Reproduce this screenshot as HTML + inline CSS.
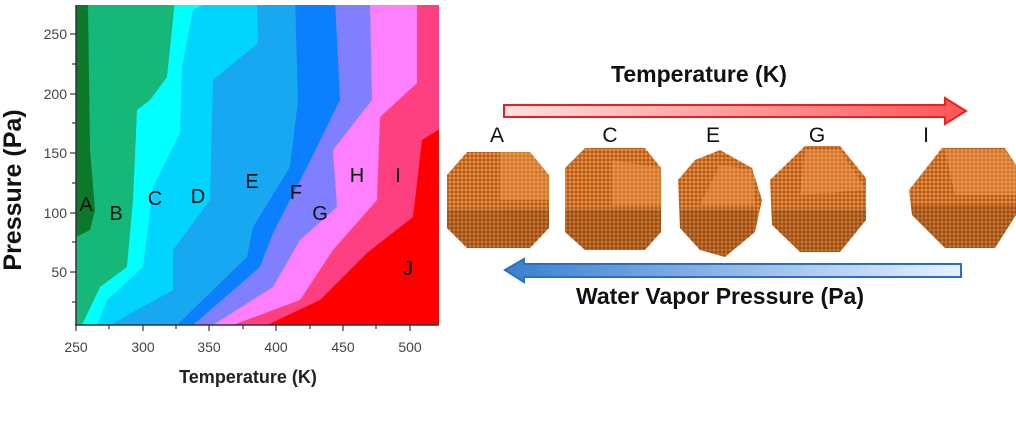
<!DOCTYPE html>
<html><head><meta charset="utf-8"><style>
body{margin:0;background:#fff;}
svg{display:block;font-family:"Liberation Sans",sans-serif;}
</style></head><body>
<svg width="1016" height="424" viewBox="0 0 1016 424" xmlns="http://www.w3.org/2000/svg">
<defs>
<pattern id="dots" width="4" height="4" patternUnits="userSpaceOnUse">
<rect width="4" height="4" fill="#a8561a"/><circle cx="2" cy="2" r="1.6" fill="#ee8c3c"/>
</pattern>
<linearGradient id="rg" x1="0" x2="1"><stop offset="0" stop-color="#ffe0e0"/><stop offset="1" stop-color="#ff5555"/></linearGradient>
<linearGradient id="bg" x1="0" x2="1"><stop offset="0" stop-color="#3a7fd0"/><stop offset="1" stop-color="#e8f0ff"/></linearGradient>
<clipPath id="pc"><rect x="76" y="5" width="363" height="320"/></clipPath>
</defs>
<g clip-path="url(#pc)" stroke-linejoin="round">
<rect x="76" y="5" width="363" height="320" fill="#0a7a2a"/>
<polygon fill="#16b87a" points="88,5 90,150 95,210 90,230 76,237 76,330 445,330 445,0"/>
<polygon fill="#00ffff" points="175,0 167,77 150,100 137,110 133,200 127,267 100,287 82,325 445,330 445,0"/>
<polygon fill="#00d4ff" points="213,0 193,10 182,67 180,133 153,187 143,267 107,300 97,325 445,330 445,0"/>
<polygon fill="#18a8f2" points="257,0 258,43 213,80 210,200 173,250 173,290 110,325 445,330 445,0"/>
<polygon fill="#0a80ff" points="295,0 298,100 290,167 253,227 247,257 177,325 445,330 445,0"/>
<polygon fill="#8080ff" points="335,0 340,100 307,167 273,233 260,267 193,325 445,330 445,0"/>
<polygon fill="#ff80ff" points="370,0 372,100 333,150 337,207 300,240 273,287 213,325 445,330 445,0"/>
<polygon fill="#ff4080" points="417,0 417,83 380,117 377,200 333,250 300,300 233,325 445,330 445,0"/>
<polygon fill="#ff0000" points="445,128 438,130 422,140 413,217 367,253 320,300 267,325 445,330"/>
</g>
<line x1="76" y1="5" x2="76" y2="326" stroke="#333" stroke-width="1.5"/>
<line x1="75" y1="325" x2="439" y2="325" stroke="#333" stroke-width="1.5"/>
<g stroke="#333" stroke-width="1.2">
<line x1="76" y1="325" x2="76" y2="331"/><line x1="109" y1="325" x2="109" y2="329"/>
<line x1="143" y1="325" x2="143" y2="331"/><line x1="176" y1="325" x2="176" y2="329"/>
<line x1="209" y1="325" x2="209" y2="331"/><line x1="243" y1="325" x2="243" y2="329"/>
<line x1="276" y1="325" x2="276" y2="331"/><line x1="310" y1="325" x2="310" y2="329"/>
<line x1="343" y1="325" x2="343" y2="331"/><line x1="376" y1="325" x2="376" y2="329"/>
<line x1="410" y1="325" x2="410" y2="331"/>
<line x1="70" y1="34" x2="76" y2="34"/><line x1="72" y1="64" x2="76" y2="64"/>
<line x1="70" y1="94" x2="76" y2="94"/><line x1="72" y1="123" x2="76" y2="123"/>
<line x1="70" y1="153" x2="76" y2="153"/><line x1="72" y1="183" x2="76" y2="183"/>
<line x1="70" y1="213" x2="76" y2="213"/><line x1="72" y1="242" x2="76" y2="242"/>
<line x1="70" y1="272" x2="76" y2="272"/><line x1="72" y1="302" x2="76" y2="302"/>
</g>
<g font-size="14" fill="#444" text-anchor="middle">
<text x="76" y="352">250</text><text x="143" y="352">300</text><text x="209" y="352">350</text>
<text x="276" y="352">400</text><text x="343" y="352">450</text><text x="410" y="352">500</text>
</g>
<g font-size="14" fill="#444" text-anchor="end">
<text x="67" y="39">250</text><text x="67" y="99">200</text><text x="67" y="158">150</text>
<text x="67" y="218">100</text><text x="67" y="277">50</text>
</g>
<text x="248" y="383" font-size="18" font-weight="bold" fill="#222" text-anchor="middle">Temperature (K)</text>
<text transform="translate(21,190) rotate(-90)" font-size="25" font-weight="bold" fill="#111" text-anchor="middle">Pressure (Pa)</text>
<g font-size="20" fill="#111" text-anchor="middle">
<text x="86" y="211">A</text><text x="116" y="220">B</text><text x="155" y="205">C</text>
<text x="198" y="203">D</text><text x="252" y="188">E</text><text x="296" y="199">F</text>
<text x="320" y="220">G</text><text x="357" y="182">H</text><text x="398" y="182">I</text>
<text x="408" y="275">J</text>
</g>
<text x="699" y="82" font-size="23" font-weight="bold" fill="#111" text-anchor="middle">Temperature (K)</text>
<polygon points="504,105 945,105 945,98 966,111 945,124 945,117 504,117" fill="url(#rg)" stroke="#e82020" stroke-width="2"/>
<g font-size="21" fill="#111" text-anchor="middle">
<text x="497" y="142">A</text><text x="610" y="142">C</text><text x="713" y="142">E</text>
<text x="817" y="142">G</text><text x="926" y="142">I</text>
</g>
<g fill="url(#dots)">
<polygon points="467,152 530,152 549,175 549,228 530,248 467,248 447,228 447,175"/>
<polygon points="585,148 645,148 661,168 661,232 645,250 585,250 565,232 565,168"/>
<polygon points="720,150 752,168 762,200 755,232 725,257 700,250 680,228 678,180 695,160"/>
<polygon points="805,146 840,146 866,178 866,220 840,252 800,252 772,225 770,180"/>
<polygon points="942,148 1005,148 1016,165 1016,215 995,248 945,248 912,215 909,190"/>
</g>
<g fill="#f5a055" opacity="0.4">
<polygon points="500,152 530,152 549,175 549,200 500,200"/>
<polygon points="612,160 661,168 661,205 612,205"/>
<polygon points="720,165 752,170 755,205 700,205"/>
<polygon points="805,150 840,150 866,190 800,195"/>
<polygon points="945,150 1005,150 1016,165 1016,195 955,195"/>
</g>
<g fill="#5a2a08" opacity="0.25">
<polygon points="447,210 549,210 549,228 530,248 467,248 447,228"/>
<polygon points="565,210 661,210 661,232 645,250 585,250 565,232"/>
<polygon points="680,210 758,210 755,232 725,257 700,250 680,228"/>
<polygon points="772,210 866,210 866,220 840,252 800,252 772,225"/>
<polygon points="911,205 1016,205 1016,215 995,248 945,248 912,215"/>
</g>
<polygon points="505,270 524,259 524,264 961,264 961,277 524,277 524,282" fill="url(#bg)" stroke="#2a70c0" stroke-width="2"/>
<text x="720" y="304" font-size="23" font-weight="bold" fill="#111" text-anchor="middle">Water Vapor Pressure (Pa)</text>
</svg>
</body></html>
